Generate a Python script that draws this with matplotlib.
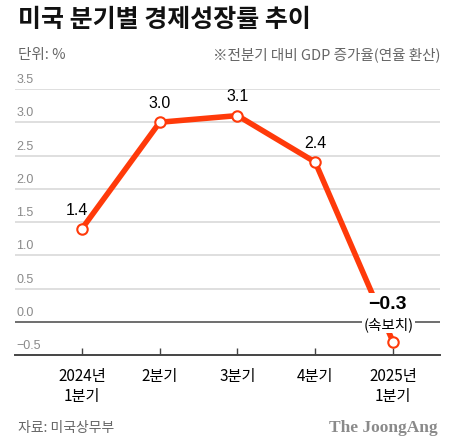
import numpy as np
import matplotlib.pyplot as plt

plt.rcParams['font.family'] = ['Noto Sans CJK KR', 'DejaVu Sans']

quarters = ['2024년\n1분기', '2분기', '3분기', '4분기', '2025년\n1분기']
growth = [1.4, 3.0, 3.1, 2.4, -0.3]
labels = ['1.4', '3.0', '3.1', '2.4', '−0.3']
yticks = [-0.5, 0.0, 0.5, 1.0, 1.5, 2.0, 2.5, 3.0, 3.5]

red = '#ff3a0a'
fig = plt.figure(figsize=(4.61, 4.43), dpi=100)
ax = fig.add_axes([15 / 461, 1 - 355 / 443, 425 / 461, 266 / 443])
x = np.arange(len(growth))
ax.set_xlim(-0.862, 4.605)
ax.set_ylim(-0.5, 3.5)

# grid lines and tick labels sitting on top of them
for v in yticks:
    if v == 0.0:
        ax.axhline(v, color='#555555', lw=1.2, zorder=1)
    elif v == -0.5:
        ax.axhline(v, color='#444444', lw=1.4, zorder=1, clip_on=False)
    else:
        ax.axhline(v, color='#d9d9d9', lw=1.2, zorder=1)
    ax.annotate(f'{v:.1f}'.replace('-', '−'), (0, v), xycoords=('axes fraction', 'data'),
                xytext=(1, 2), textcoords='offset points', ha='left', va='bottom',
                fontsize=9, color='#8a8a8a', family=['Liberation Sans'])

ax.plot(x, growth, color=red, lw=4, zorder=3, solid_capstyle='round')
ax.plot(x, growth, 'o', ms=7.5, mfc='white', mec=red, mew=1.5, zorder=5)

# value labels
offs = [(-4, 8), (0, 8), (0, 8), (0, 8)]
for i in range(4):
    ax.annotate(labels[i], (x[i], growth[i]), xytext=offs[i], textcoords='offset points',
                ha='center', va='bottom', fontsize=11.5, color='black', zorder=6,
                family=['Liberation Sans'])
ax.annotate(labels[4], (x[4], growth[4]), xytext=(-4, 27), textcoords='offset points',
            ha='center', va='center', fontsize=14, fontweight='bold', color='black',
            zorder=6, family=['Liberation Sans'],
            bbox=dict(boxstyle='square,pad=0.12', fc='white', ec='none'))
ax.annotate('(속보치)', (x[4], growth[4]), xytext=(-3, 12.5), textcoords='offset points',
            ha='center', va='center', fontsize=10.5, color='black', zorder=6,
            bbox=dict(boxstyle='square,pad=0.1', fc='white', ec='none'))

ax.set_xticks(x)
ax.set_xticklabels(quarters, fontsize=11, linespacing=1.3)
ax.tick_params(axis='x', direction='in', length=5, width=1, color='#444444', pad=9)
ax.set_yticks([])
for s in ax.spines.values():
    s.set_visible(False)

fig.text(18 / 461, 1 - 20 / 443, '미국 분기별 경제성장률 추이', fontsize=18, fontweight='bold',
         ha='left', va='center', color='#111111')
fig.text(18 / 461, 1 - 55 / 443, '단위: %', fontsize=10.5, color='#666666', ha='left', va='center')
fig.text(440 / 461, 1 - 55 / 443, '※전분기 대비 GDP 증가율(연율 환산)', fontsize=10.5,
         color='#666666', ha='right', va='center')
fig.text(18 / 461, 1 - 428 / 443, '자료: 미국상무부', fontsize=10, color='#666666',
         ha='left', va='center')
fig.text(438 / 461, 1 - 428 / 443, 'The JoongAng', fontsize=12.5, fontweight='bold',
         color='#8a8a8a', ha='right', va='center', family=['Liberation Serif'])

fig.savefig('out.png', dpi=100)
